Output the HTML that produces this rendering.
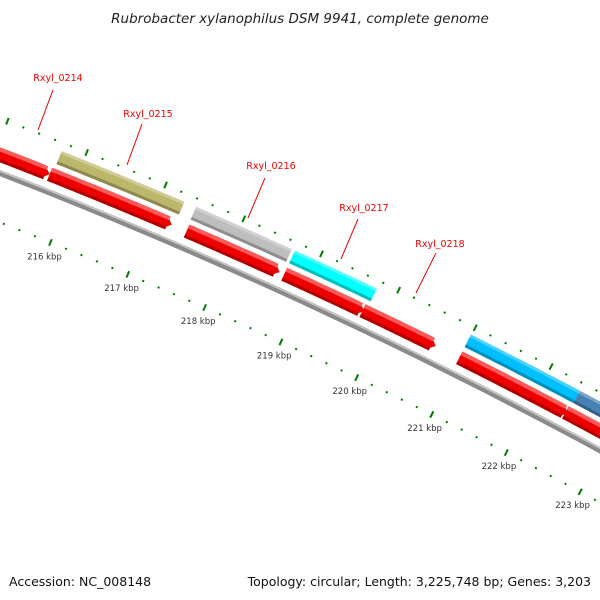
<!DOCTYPE html>
<html><head><meta charset="utf-8"><style>
html,body{margin:0;padding:0;background:#fff}
svg{display:block;font-family:"DejaVu Sans","Liberation Sans",sans-serif}
</style></head><body>
<svg id="map" width="600" height="600" viewBox="0 0 600 600">
<text x="300" y="23" text-anchor="middle" font-size="13.5" font-style="italic" fill="#222">Rubrobacter xylanophilus DSM 9941, complete genome</text>
<g id="ticks"></g>
<g id="genes"></g>
<g id="labels">
<text x="58" y="81" text-anchor="middle" font-size="9.5" fill="#e00">Rxyl_0214</text>
<line x1="53" y1="90" x2="38" y2="130" stroke="#e00" stroke-width="1"/>
<text x="148" y="117" text-anchor="middle" font-size="9.5" fill="#e00">Rxyl_0215</text>
<line x1="142" y1="124" x2="127" y2="165" stroke="#e00" stroke-width="1"/>
<text x="271" y="169" text-anchor="middle" font-size="9.5" fill="#e00">Rxyl_0216</text>
<line x1="265" y1="178" x2="248" y2="218" stroke="#e00" stroke-width="1"/>
<text x="364" y="211" text-anchor="middle" font-size="9.5" fill="#e00">Rxyl_0217</text>
<line x1="358" y1="219" x2="341" y2="259" stroke="#e00" stroke-width="1"/>
<text x="440" y="247" text-anchor="middle" font-size="9.5" fill="#e00">Rxyl_0218</text>
<line x1="436" y1="253" x2="416" y2="293" stroke="#e00" stroke-width="1"/>
</g>
<text x="9" y="586" font-size="12.5" fill="#111">Accession: NC_008148</text>
<text x="591" y="586" text-anchor="end" font-size="12.5" fill="#111">Topology: circular; Length: 3,225,748 bp; Genes: 3,203</text>
</svg>
<script>
const tickLabels = [216,217,218,219,220,221,222,223];
const fwdStarts = [214.6,215.69,217.44,218.70,219.72,220.99,222.40];
const fwdEnds   = [215.69,217.25,218.64,219.74,220.68,222.43,223.5];
const row2Starts = [215.72,217.43,218.70,220.99,222.43];
const row2Ends   = [217.28,218.66,219.76,222.43,223.5];
const row2Colors = ["#bdb76b","#bebebe","#00ffff","#00bfff","#4682b4"];

const NS="http://www.w3.org/2000/svg";
const CX=-1889, CY=5050, A0=-68.03, DEG=0.925;
function pt(k,r){const t=(A0+(k-216)*DEG)*Math.PI/180;return [CX+r*Math.cos(t),CY+r*Math.sin(t)];}
function band(k1,k2,r1,r2,head){
  const p=[];const n=30;
  const kh = head? Math.max(k1,k2-0.09):k2;
  for(let i=0;i<=n;i++){p.push(pt(k1+(kh-k1)*i/n,r2));}
  if(head){p.push(pt(k2,(r1+r2)/2));}
  for(let i=n;i>=0;i--){p.push(pt(k1+(kh-k1)*i/n,r1));}
  return p.map(q=>q[0].toFixed(1)+","+q[1].toFixed(1)).join(" ");
}
function poly(g,pts,fill,name){const e=document.createElementNS(NS,"polygon");e.setAttribute("points",pts);e.setAttribute("fill",fill);


g.appendChild(e);return e;}
const T=document.getElementById("ticks"), G=document.getElementById("genes");
poly(G,band(213,225,5227,5233,false),"#8a8a8a","backbone");
poly(G,band(213,225,5231,5233,false),"#c4c4c4","backbone-highlight");
for(let i=0;i<fwdStarts.length;i++){
  const e=poly(G,band(fwdStarts[i],fwdEnds[i],5240,5254,true),"#ee0000","gene-forward");
  
  poly(G,band(fwdStarts[i],fwdEnds[i]-0.05,5250,5254,false),"#ff5a5a","gene-forward-highlight");
  poly(G,band(fwdStarts[i],fwdEnds[i]-0.05,5240,5243,false),"#b00000","gene-forward-shadow");
}
for(let i=0;i<row2Starts.length;i++){
  const e=poly(G,band(row2Starts[i],row2Ends[i],5259,5273,false),row2Colors[i],"gene-feature");
  
  poly(G,band(row2Starts[i],row2Ends[i],5259,5262,false),"rgba(0,0,0,0.25)","gene-feature-shadow");
  poly(G,band(row2Starts[i],row2Ends[i],5270,5273,false),"rgba(255,255,255,0.3)","gene-feature-highlight");
}
for(let m=2130;m<=2250;m+=2){
  const k=m/10, major=(m%10===0);
  [5184,5281].forEach(r=>{
    const a=pt(k,r-(major?3.5:1)),b=pt(k,r+(major?3.5:1));
    const l=document.createElementNS(NS,"line");
    l.setAttribute("x1",a[0]);l.setAttribute("y1",a[1]);l.setAttribute("x2",b[0]);l.setAttribute("y2",b[1]);
    l.setAttribute("stroke","#007a00");l.setAttribute("stroke-width",2);
    
    
    T.appendChild(l);
  });
}
tickLabels.forEach(k=>{
  const p=pt(k,5168);
  const t=document.createElementNS(NS,"text");
  t.setAttribute("x",p[0].toFixed(1));t.setAttribute("y",(p[1]+2).toFixed(1));
  t.setAttribute("text-anchor","middle");t.setAttribute("font-size","8.5");t.setAttribute("fill","#333");
  t.textContent=k+" kbp";
  
  
  T.appendChild(t);
});
</script>
</body></html>
